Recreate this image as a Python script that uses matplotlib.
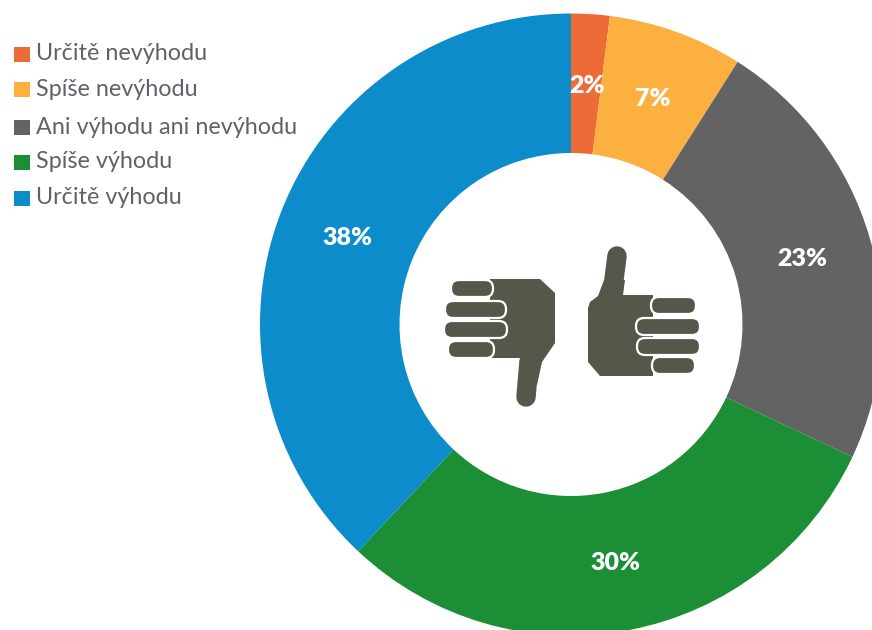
import matplotlib
matplotlib.use("Agg")
import matplotlib.pyplot as plt
from matplotlib.patches import FancyBboxPatch, Polygon, Rectangle

plt.rcParams["font.family"] = ["Lato", "DejaVu Sans"]

LABELS = ["Určitě nevýhodu", "Spíše nevýhodu", "Ani výhodu ani nevýhodu", "Spíše výhodu", "Určitě výhodu"]
VALUES = [2, 7, 23, 30, 38]
COLORS = ["#ED6B37", "#FBB040", "#636363", "#1B8E36", "#0C8CCB"]
ICON = "#57564B"

W, H = 872, 630
PCT_POS = [(587, 86), (653, 99), (802, 259), (615, 563), (347, 238)]
LEGEND_Y = [54, 89, 127, 162, 198]


def finger(ax, x0, x1, y0, y1):
    r = (y1 - y0) / 2 - 0.5
    ax.add_patch(FancyBboxPatch((x0 + r, y0 + r), x1 - x0 - 2 * r, y1 - y0 - 2 * r,
                                boxstyle=f"round,pad={r}", fc=ICON, ec="white", lw=1.6, zorder=5))


def draw_thumbs(ax):
    # thumb down, fist on the left
    ax.add_patch(Polygon([(490, 279), (540, 279), (555, 293), (555, 343), (542, 362),
                          (537, 385), (518, 385), (520, 358), (490, 358)],
                         fc=ICON, ec="none", zorder=4))
    ax.plot([526, 529], [397, 362], color=ICON, lw=14, solid_capstyle="round", zorder=4)
    for x0, x1, y0, y1 in [(451, 493, 280, 297), (445, 506, 301, 318),
                           (444, 507, 321, 338), (448, 494, 341, 358)]:
        finger(ax, x0, x1, y0, y1)

    # thumb up, fist on the right
    ax.add_patch(Polygon([(590, 302), (598, 296), (604, 280), (625, 280), (623, 295), (653, 295),
                          (653, 376), (600, 376), (588, 362), (588, 308)],
                         fc=ICON, ec="none", zorder=4))
    ax.plot([617, 612], [256, 295], color=ICON, lw=14, solid_capstyle="round", zorder=4)
    for x0, x1, y0, y1 in [(651, 696, 297, 314), (636, 700, 318, 335),
                           (637, 700, 338, 355), (652, 695, 357, 374)]:
        finger(ax, x0, x1, y0, y1)


fig = plt.figure(figsize=(W / 100, H / 100), dpi=100)
ax = fig.add_axes([0, 0, 1, 1])

# y runs downward here, so the slices go clockwise from the top with counterclock on
ax.pie(
    VALUES,
    colors=COLORS,
    startangle=-90,
    counterclock=True,
    center=(571, 324.5),
    radius=311,
    wedgeprops={"width": 139.5},
    frame=True,
)
ax.set_xlim(0, W)
ax.set_ylim(H, 0)
ax.set_aspect("equal")
ax.axis("off")

for v, (x, y) in zip(VALUES, PCT_POS):
    ax.text(x, y, f"{v}%", color="white", fontsize=18, fontweight="heavy", ha="center", va="center")

for lab, col, y in zip(LABELS, COLORS, LEGEND_Y):
    ax.add_patch(Rectangle((14, y - 7), 16, 15, color=col, lw=0))
    ax.text(36, y, lab, fontsize=16.8, color="#5F6268", va="center", ha="left")

draw_thumbs(ax)

fig.savefig("out.png", dpi=100)
